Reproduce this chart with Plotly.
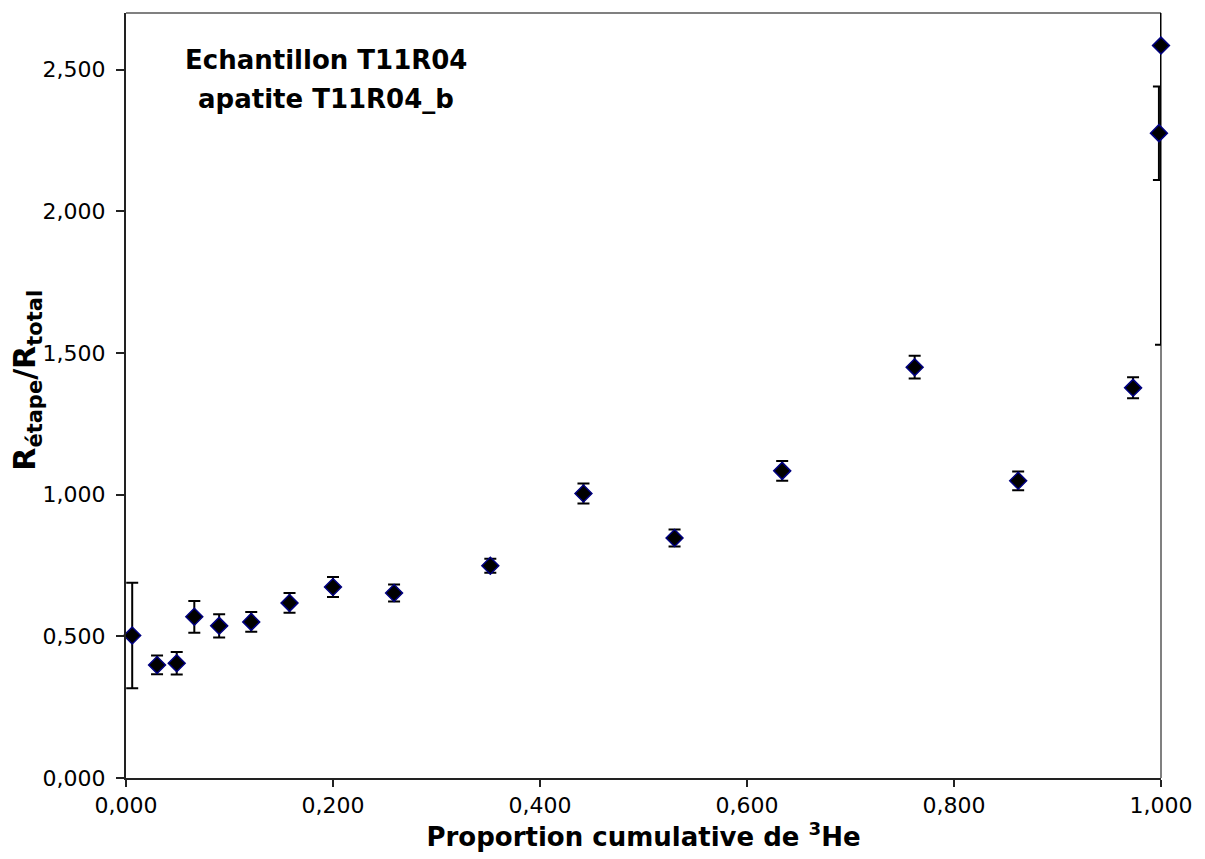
import plotly.graph_objects as go

# proportion cumulative de 3He
prop_he = [0.006, 0.030, 0.049, 0.066, 0.090, 0.121, 0.158, 0.200, 0.259,
           0.352, 0.442, 0.530, 0.634, 0.762, 0.862, 0.973, 0.998, 1.000]
# R etape / R total
ratio = [0.503, 0.399, 0.405, 0.569, 0.537, 0.551, 0.618, 0.674, 0.653,
         0.749, 1.004, 0.847, 1.084, 1.450, 1.049, 1.377, 2.276, 2.585]
ratio_err = [0.186, 0.033, 0.040, 0.056, 0.041, 0.035, 0.035, 0.035, 0.030,
             0.025, 0.035, 0.030, 0.035, 0.040, 0.033, 0.037, 0.165, 1.056]

x_ticks = [0, 0.2, 0.4, 0.6, 0.8, 1.0]
y_ticks = [0, 0.5, 1.0, 1.5, 2.0, 2.5]

title_lines = ['Echantillon T11R04', 'apatite T11R04_b']

FONT = 'DejaVu Sans, Liberation Sans, Arial, sans-serif'

fig = go.Figure()

fig.add_trace(go.Scatter(
    x=prop_he, y=ratio,
    mode='markers',
    marker=dict(symbol='diamond', size=13, color='black',
                line=dict(color='#000080', width=1.5)),
    error_y=dict(type='data', array=ratio_err, visible=True,
                 color='black', thickness=2, width=6),
    cliponaxis=False,
    showlegend=False,
))

# sample label, one annotation per line (Excel line spacing is wider)
for txt, yy in zip(title_lines, [2.535, 2.398]):
    fig.add_annotation(
        text='<b>%s</b>' % txt,
        xref='x', yref='y', x=0.193, y=yy,
        showarrow=False, align='center',
        font=dict(size=26, color='black', family=FONT),
    )

# y title as annotation so it can sit a bit above the axis centre
fig.add_annotation(
    text='<b>R<sub>étape</sub>/R<sub>total</sub></b>',
    xref='paper', yref='paper', x=0, y=0.52,
    xanchor='right', yanchor='middle', xshift=-78,
    textangle=-90, showarrow=False,
    font=dict(size=30, color='black', family=FONT),
)

# gray top / right frame like the Excel chart
fig.add_shape(type='line', xref='x domain', yref='y domain',
              x0=0, x1=1, y0=1, y1=1, line=dict(color='#808080', width=2), layer='below')
fig.add_shape(type='line', xref='x domain', yref='y domain',
              x0=1, x1=1, y0=0, y1=1, line=dict(color='#808080', width=2), layer='below')

fig.update_xaxes(
    range=[0, 1.0], tickvals=x_ticks, tickformat='.3f',
    showline=True, linecolor='#222222', linewidth=2,
    ticks='outside', ticklen=7, tickcolor='#222222', tickwidth=1.5,
    showgrid=False, zeroline=False,
    tickfont=dict(size=22, color='black', family=FONT),
    title=dict(text='<b>Proportion cumulative de <sup>3</sup>He</b>',
               font=dict(size=26, color='black', family=FONT), standoff=0),
)
fig.update_yaxes(
    range=[0, 2.7], tickvals=y_ticks, tickformat='.3f',
    showline=True, linecolor='#222222', linewidth=2,
    ticks='outside', ticklen=8, tickcolor='#222222', tickwidth=1.5,
    showgrid=False, zeroline=False,
    ticklabelstandoff=6,
    tickfont=dict(size=22, color='black', family=FONT),
)

# page body adds an 8px margin, so the figure is 8px smaller than the window
fig.update_layout(
    width=1197, height=851,
    margin=dict(l=118, r=44, t=5, b=81),
    plot_bgcolor='white', paper_bgcolor='white',
    separators=',.',
    font=dict(family=FONT, color='black'),
)

fig.write_html('out.html')
